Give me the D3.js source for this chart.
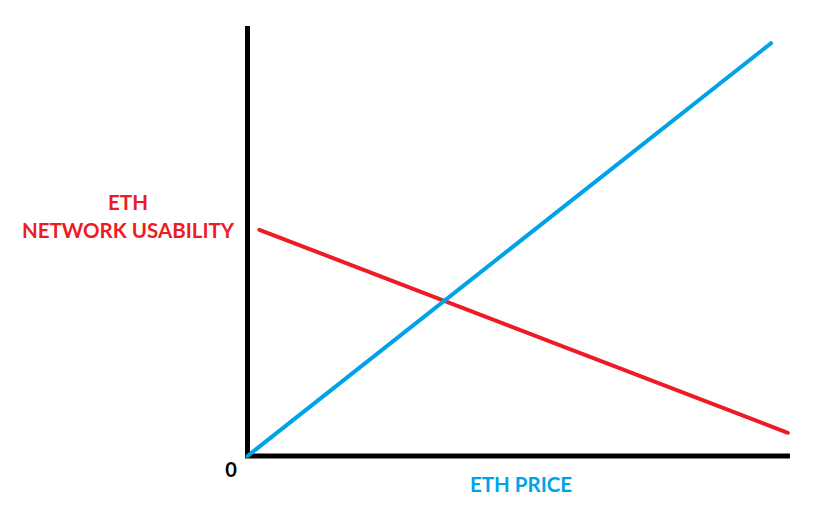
<!DOCTYPE html>
<html lang="en">
  <head>
    <meta charset="UTF-8" />
    <title>ETH price vs network usability</title>
    <style>
      body { margin: 0; background: #fff; }
      svg { display: block; }
      text { font-family: Lato, "Open Sans", sans-serif; font-weight: 700; }
    </style>
  </head>
  <body>
    <script src="https://cdn.jsdelivr.net/npm/d3@7"></script>
    <script>
      // normalised 0..1 values
      const priceX = [0, 0.965];
      const priceY = [0, 0.96];
      const usabilityX = [0.022, 0.996];
      const usabilityY = [0.526, 0.054];
      const yLabelLines = ["ETH", "NETWORK USABILITY"];
      const xLabel = "ETH PRICE";
      const originLabel = "0";

      const width = 826;
      const height = 524;
      const red = "#ED1C24";
      const blue = "#00A2E8";

      const x = d3.scaleLinear().domain([0, 1]).range([247.5, 790]);
      const y = d3.scaleLinear().domain([0, 1]).range([456, 26]);

      const svg = d3.select("body").append("svg")
        .attr("width", width)
        .attr("height", height);

      const line = d3.line().x(d => x(d[0])).y(d => y(d[1]));

      const priceData = d3.zip(priceX, priceY);
      const usabilityData = d3.zip(usabilityX, usabilityY);

      // axes as plain thick lines
      svg.append("line")
        .attr("x1", x(0)).attr("x2", x(0))
        .attr("y1", y(0)).attr("y2", y(1))
        .attr("stroke", "#000").attr("stroke-width", 5);
      svg.append("line")
        .attr("x1", x(0) - 2.5).attr("x2", x(1))
        .attr("y1", y(0)).attr("y2", y(0))
        .attr("stroke", "#000").attr("stroke-width", 5);

      svg.append("path")
        .datum(usabilityData)
        .attr("d", line)
        .attr("fill", "none")
        .attr("stroke", red)
        .attr("stroke-width", 4)
        .attr("stroke-linecap", "round");

      svg.append("path")
        .datum(priceData)
        .attr("d", line)
        .attr("fill", "none")
        .attr("stroke", blue)
        .attr("stroke-width", 4)
        .attr("stroke-linecap", "round");

      svg.append("text")
        .attr("x", 231)
        .attr("y", 477)
        .attr("text-anchor", "middle")
        .attr("font-size", 20)
        .attr("fill", "#000")
        .text(originLabel);

      svg.append("text")
        .attr("x", 521)
        .attr("y", 492)
        .attr("text-anchor", "middle")
        .attr("font-size", 20.5)
        .attr("fill", blue)
        .text(xLabel);

      svg.selectAll(".ylab")
        .data(yLabelLines)
        .enter()
        .append("text")
        .attr("class", "ylab")
        .attr("x", 128)
        .attr("y", (d, i) => 210 + i * 28)
        .attr("text-anchor", "middle")
        .attr("font-size", 20.5)
        .attr("fill", red)
        .text(d => d);
    </script>
  </body>
</html>
